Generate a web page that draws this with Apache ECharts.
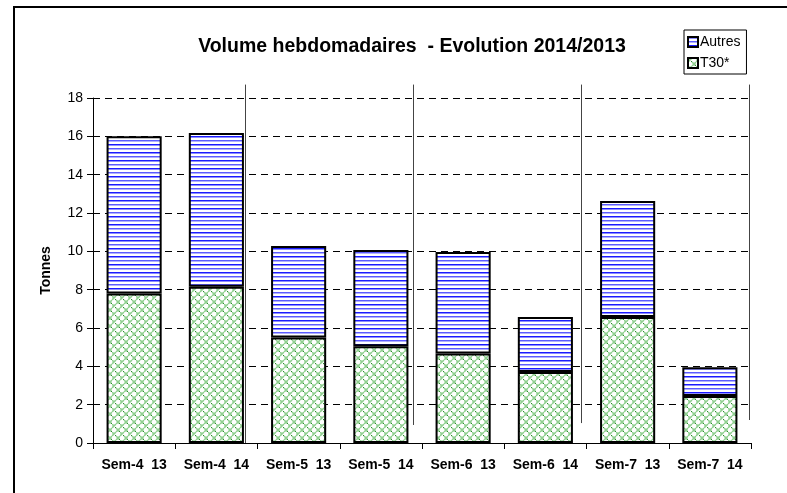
<!DOCTYPE html>
<html><head><meta charset="utf-8">
<script src="https://cdn.jsdelivr.net/npm/echarts@6/dist/echarts.min.js"></script>
<style>html,body{margin:0;padding:0;background:#fff}#c{width:787px;height:493px}</style>
</head><body><div id="c"></div>
<script>
const categories = ['Sem-4  13','Sem-4  14','Sem-5  13','Sem-5  14','Sem-6  13','Sem-6  14','Sem-7  13','Sem-7  14'];
const t30 = [7.8, 8.15, 5.5, 5.05, 4.67, 3.7, 6.58, 2.45];
const autres = [8.2, 8.02, 4.78, 5.02, 5.3, 2.88, 6.05, 1.5];
const yTicks = [0,2,4,6,8,10,12,14,16,18];
const titleText = 'Volume hebdomadaires  - Evolution 2014/2013';
const periodText = 'du 10/02 au 16/02/2014';

function stripe(){
  const c=document.createElement('canvas');c.width=8;c.height=8;const g=c.getContext('2d');
  g.fillStyle='#fff';g.fillRect(0,0,8,8);
  g.fillStyle='#1a1aff';g.fillRect(0,0,8,1);
  g.fillStyle='#8c8cff';g.fillRect(0,1,8,1);
  g.fillStyle='#5c5cff';g.fillRect(0,4,8,1);
  g.fillStyle='#b0b0ff';g.fillRect(0,5,8,1);
  return c;
}
function weave(){
  const c=document.createElement('canvas');c.width=8;c.height=8;const g=c.getContext('2d');
  g.fillStyle='#fff';g.fillRect(0,0,8,8);
  g.strokeStyle='#8fcf8f';g.lineWidth=1.6;
  g.beginPath();
  g.moveTo(0,4);g.lineTo(4,0);g.moveTo(4,8);g.lineTo(8,4);
  g.moveTo(4,4);g.lineTo(8,8);g.moveTo(0,0);g.lineTo(2,2);
  g.stroke();
  g.fillStyle='#2e8b2e';g.fillRect(3,3,1,1);g.fillRect(7,7,1,1);
  return c;
}
const chart=echarts.init(document.getElementById('c'),null,{renderer:'canvas'});
const font='Liberation Sans, Arial, sans-serif';
chart.setOption({
  animation:false,
  backgroundColor:'#fff',
  title:{text:titleText,left:407,top:32,textAlign:'center',
    textStyle:{fontFamily:font,fontSize:19.5,fontWeight:'bold',color:'#000'}},
  legend:{data:['Autres','T30*'],orient:'vertical',left:684,top:30,
    icon:'rect',itemWidth:10,itemHeight:10,itemGap:7,padding:[5,6,4,3],
    borderColor:'#000',borderWidth:1,
    textStyle:{fontFamily:font,fontSize:14,color:'#000',padding:[0,0,0,-3]}},
  grid:{left:93,right:36,top:98,bottom:50},
  xAxis:{type:'category',data:categories,boundaryGap:true,
    axisLine:{lineStyle:{color:'#000',width:1}},
    axisTick:{show:true,length:6,lineStyle:{color:'#000'}},
    axisLabel:{interval:0,hideOverlap:false,fontFamily:font,fontSize:14,fontWeight:'bold',color:'#000',margin:15},
    splitLine:{show:false}},
  yAxis:{type:'value',min:0,max:18,interval:2,
    name:'Tonnes',nameLocation:'middle',nameGap:40,nameRotate:90,
    nameTextStyle:{fontFamily:font,fontSize:14,fontWeight:'bold',color:'#000'},
    axisLine:{show:true,lineStyle:{color:'#000'}},
    axisTick:{show:true,length:6,lineStyle:{color:'#000'}},
    axisLabel:{fontFamily:font,fontSize:14,color:'#000',margin:10,
      formatter:v=>yTicks.includes(v)?String(v):''},
    splitLine:{show:true,lineStyle:{color:'#000',type:[7,5],width:1}}},
  series:[
    {name:'T30*',type:'bar',stack:'s',data:t30,barWidth:'67%',
      itemStyle:{color:{image:weave(),repeat:'repeat'},borderColor:'#000',borderWidth:2}},
    {name:'Autres',type:'bar',stack:'s',data:autres,barWidth:'67%',
      itemStyle:{color:{image:stripe(),repeat:'repeat'},borderColor:'#000',borderWidth:2}}
  ]
});
// decorative week separators
const sepCat=[1,3,5,7];
const sepOff=[28.6,32.1,35.6,39.1];
const sepBottom=[0,0.94,1.04,1.2];
const sepTop=18.7;
const g=[];
sepCat.forEach((ci,k)=>{
  const x=Math.round(chart.convertToPixel({xAxisIndex:0},ci)+sepOff[k])+0.5;
  const y1=chart.convertToPixel({yAxisIndex:0},sepTop);
  const y2=chart.convertToPixel({yAxisIndex:0},sepBottom[k]);
  g.push({type:'line',shape:{x1:x,y1:y1,x2:x,y2:y2},style:{stroke:'#444',lineWidth:1},z:5});
});
g.push({type:'rect',shape:{x:14,y:7,width:800,height:500},style:{fill:null,stroke:'#000',lineWidth:2},z:10});
g.push({type:'text',left:545,top:-10,style:{text:periodText,font:'bold 12px '+font,fill:'#000'},z:10});
chart.setOption({graphic:g});
</script></body></html>
